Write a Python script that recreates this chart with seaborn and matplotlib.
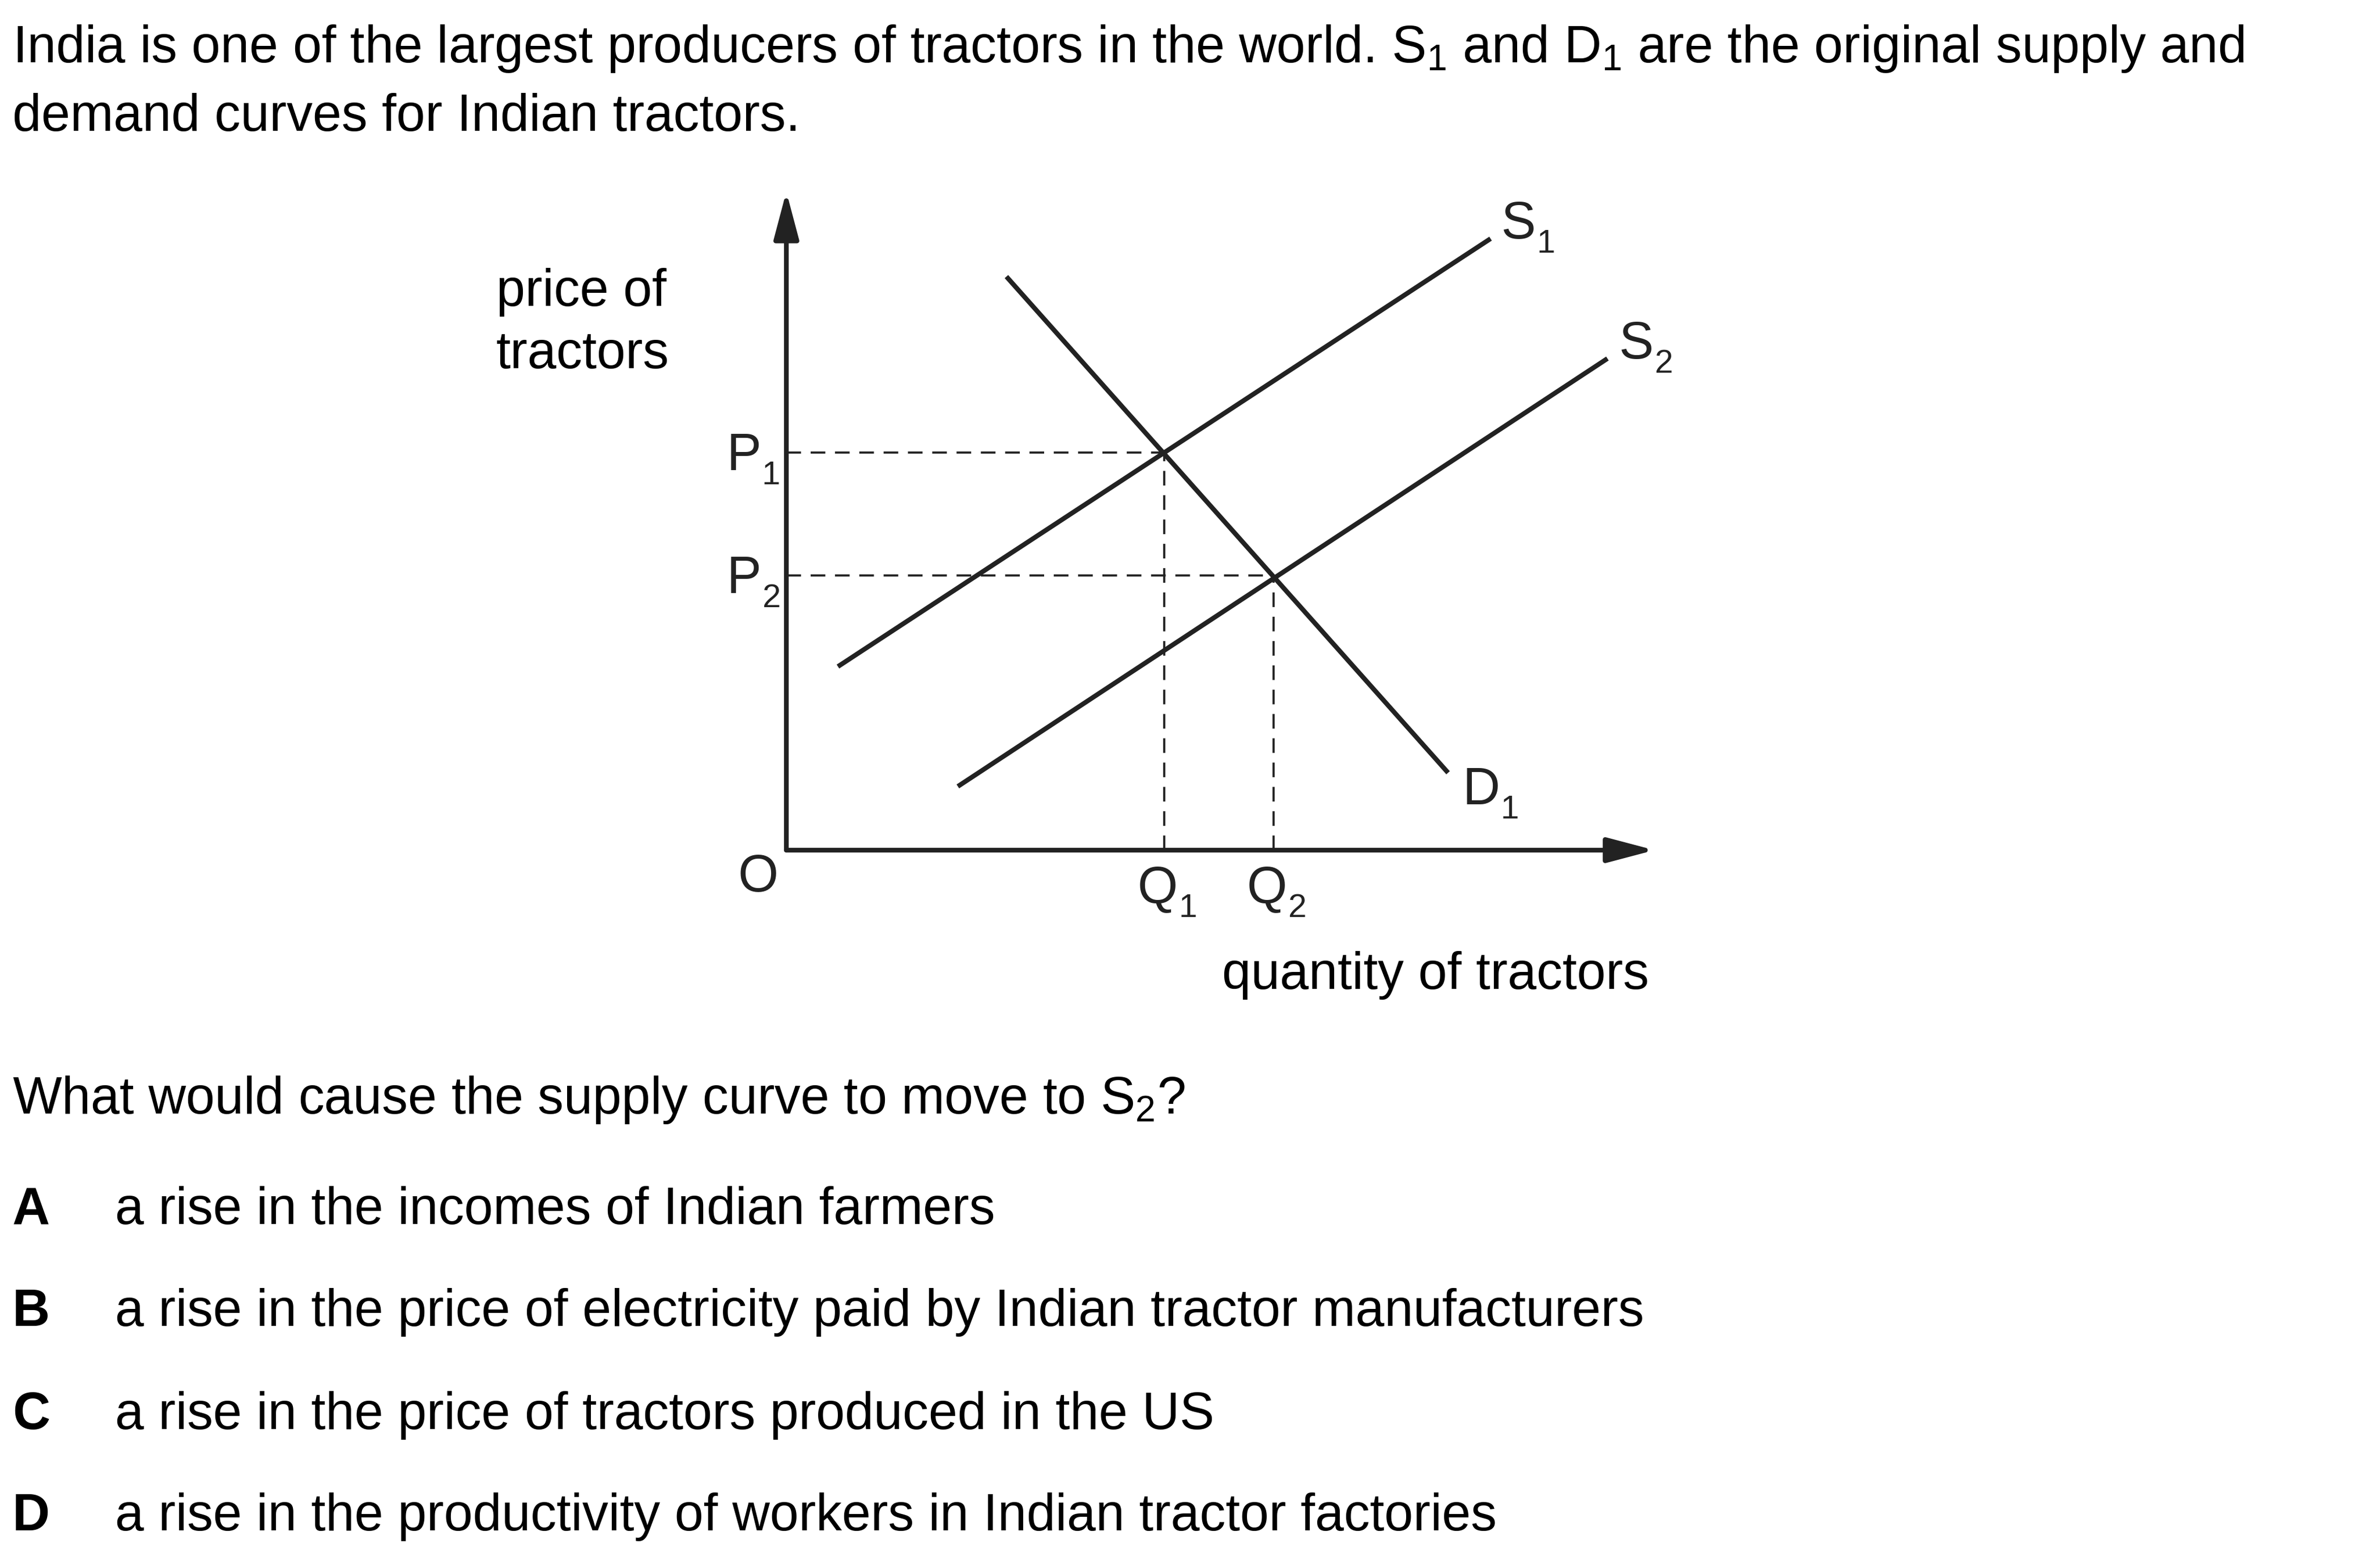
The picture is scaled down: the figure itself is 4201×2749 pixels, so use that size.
import numpy as np
import pandas as pd
import matplotlib.pyplot as plt
import seaborn as sns

# curve end points (quantity, price)
s1_q = [3.4, 46.4]
s1_p = [12.1, 40.3]
s2_q = [11.3, 54.1]
s2_p = [4.2, 32.4]
d1_q = [14.5, 43.6]
d1_p = [37.8, 5.1]

# equilibrium points
eq_q = [24.9, 32.1]
eq_p = [26.2, 18.1]
eq_names = ["1", "2"]

axis_end = (57.2, 43.4)

title_lines = [r"India is one of the largest producers of tractors in the world. S$_1$ and D$_1$ are the original supply and",
               "demand curves for Indian tractors."]
question = r"What would cause the supply curve to move to S$_2$?"
option_keys = ["A", "B", "C", "D"]
option_texts = ["a rise in the incomes of Indian farmers",
                "a rise in the price of electricity paid by Indian tractor manufacturers",
                "a rise in the price of tractors produced in the US",
                "a rise in the productivity of workers in Indian tractor factories"]

sns.set_theme(style="white")
plt.rcParams['font.family'] = ['Liberation Sans', 'DejaVu Sans']
plt.rcParams['mathtext.fontset'] = 'custom'
plt.rcParams['mathtext.rm'] = 'Liberation Sans'
plt.rcParams['mathtext.default'] = 'regular'

W, H = 4201, 2749
FS = 22            # body text
LFS, SFS = 22, 14  # diagram letters and their subscripts
ink = '#222222'
diag_font = ['Liberation Sans', 'DejaVu Sans']

fig = plt.figure(figsize=(W / 300, H / 300), dpi=300)
fig.patch.set_facecolor('white')

# axes placed so the origin sits at (1388, 1501) px, 1 data unit = 26.79 px
unit = 26.79
ax = fig.add_axes([1388 / W, 1 - 1501 / H, 60 * unit / W, 45 * unit / H])
ax.set_xlim(0, 60)
ax.set_ylim(0, 45)
ax.set_axis_off()

curves = pd.DataFrame({
    "q": s1_q + s2_q + d1_q,
    "p": s1_p + s2_p + d1_p,
    "curve": ["S1"] * 2 + ["S2"] * 2 + ["D1"] * 2,
})
sns.lineplot(data=curves, x="q", y="p", units="curve", estimator=None,
             color=ink, lw=2.0, ax=ax, legend=False, solid_capstyle='butt')

# dashed guides
lw_d = 0.9
dash = (0, (6.2 / lw_d, 4.1 / lw_d))
for q, p in zip(eq_q, eq_p):
    ax.plot([0, q], [p, p], color=ink, lw=lw_d, linestyle=dash)
    ax.plot([q, q], [0, p], color=ink, lw=lw_d, linestyle=dash)

# axes with arrows
arrow = dict(arrowstyle='-|>,head_length=1.7,head_width=0.45', color=ink, lw=2.0,
             shrinkA=0, shrinkB=0, mutation_scale=10)
ax.annotate("", xy=(axis_end[0], 0), xytext=(0, 0), arrowprops=arrow)
ax.annotate("", xy=(0, axis_end[1]), xytext=(0, 0), arrowprops=arrow)


def sub_label(main, sub, xy, offset):
    t = ax.annotate(main, xy=xy, xytext=offset, textcoords='offset points',
                    fontsize=LFS, family=diag_font, color=ink, ha='left', va='baseline')
    ax.annotate(sub, xy=(1, 0), xycoords=t, xytext=(0.2, -1.4), textcoords='offset points',
                fontsize=SFS, family=diag_font, color=ink, ha='left', va='baseline')


sub_label("S", "1", (s1_q[-1], s1_p[-1]), (4.6, 0))
sub_label("S", "2", (s2_q[-1], s2_p[-1]), (5.0, 0))
sub_label("D", "1", (d1_q[-1], d1_p[-1]), (6.2, -13.4))
for q, p, n in zip(eq_q, eq_p, eq_names):
    sub_label("P", n, (0, p), (-25.2, -7.5))
    sub_label("Q", n, (q, 0), (-11.3, -22.3))
ax.annotate("O", xy=(0, 0), xytext=(-20.4, -17.5), textcoords='offset points',
            fontsize=LFS, family=diag_font, color=ink, ha='left', va='baseline')


def put(x_px, y_px, s, **kw):
    fig.text(x_px / W, 1 - y_px / H, s, fontsize=FS, color='black',
             ha='left', va='baseline', **kw)


put(22, 110, title_lines[0])
put(22, 231, title_lines[1])
put(876, 540, "price of")
put(876, 650, "tractors")
put(2157, 1746, "quantity of tractors")
put(22, 1966, question)

opt_base = [2161, 2341, 2523, 2702]
for key, txt, yb in zip(option_keys, option_texts, opt_base):
    put(22, yb, key, fontweight='bold')
    put(203, yb, txt)

fig.savefig("out.png", dpi=300, facecolor='white')
